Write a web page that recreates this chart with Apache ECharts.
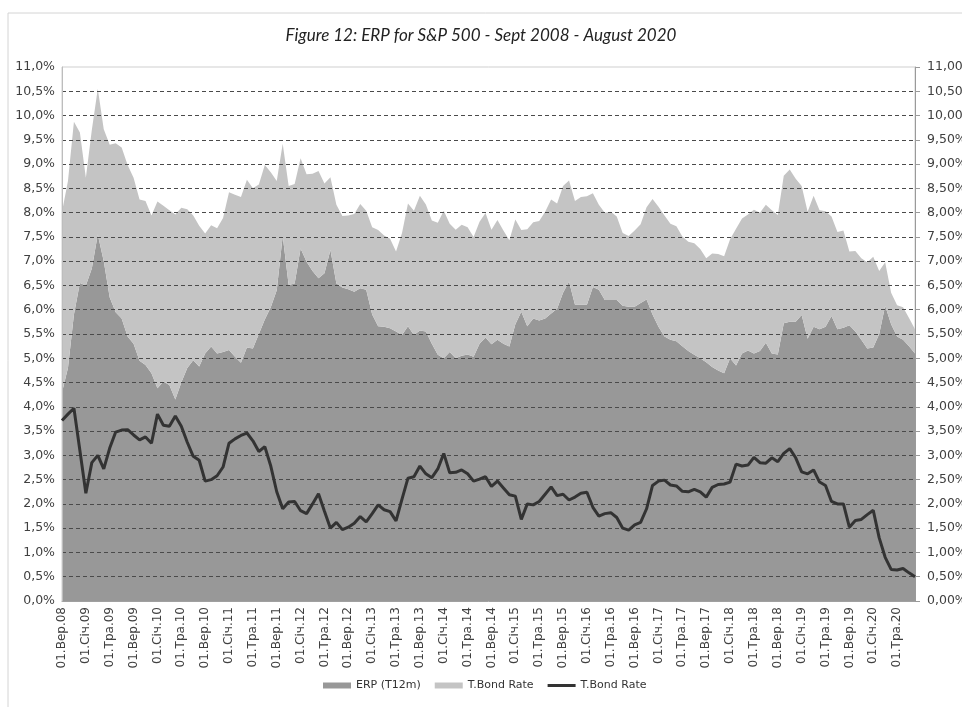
<!DOCTYPE html>
<html>
<head>
<meta charset="utf-8">
<title>ERP for S&amp;P 500</title>
<script src="https://cdn.jsdelivr.net/npm/echarts/dist/echarts.min.js"></script>
<style>
  html, body { margin: 0; padding: 0; background: #fff; }
  #chart { width: 962px; height: 707px; }
</style>
</head>
<body>
<div id="chart"></div>
<script>
  // monthly data, 01.Sep.2008 .. 01.Aug.2020 (values in %)
  const monthNames = ['Січ', 'Лют', 'Бер', 'Кві', 'Тра', 'Чер', 'Лип', 'Сер', 'Вер', 'Жов', 'Лис', 'Гру'];
  const startYear = 2008, startMonth = 8, monthCount = 144;

  const erp = [
    4.30, 4.80, 5.90, 6.55, 6.50, 6.85, 7.55, 7.00, 6.25, 5.95,
    5.82, 5.45, 5.30, 4.95, 4.86, 4.69, 4.38, 4.52, 4.45, 4.15,
    4.50, 4.80, 4.96, 4.83, 5.10, 5.24, 5.10, 5.13, 5.17, 5.03,
    4.91, 5.22, 5.20, 5.50, 5.80, 6.05, 6.40, 7.52, 6.51, 6.54,
    7.26, 6.99, 6.80, 6.65, 6.75, 7.23, 6.54, 6.46, 6.42, 6.37,
    6.44, 6.41, 5.90, 5.66, 5.65, 5.62, 5.55, 5.48, 5.66, 5.48,
    5.57, 5.55, 5.30, 5.07, 5.00, 5.13, 5.00, 5.05, 5.08, 5.03,
    5.30, 5.43, 5.29, 5.38, 5.30, 5.24, 5.70, 5.96, 5.66, 5.82,
    5.78, 5.82, 5.92, 6.02, 6.35, 6.58, 6.10, 6.10, 6.10, 6.47,
    6.41, 6.20, 6.20, 6.20, 6.08, 6.06, 6.06, 6.14, 6.21, 5.90,
    5.65, 5.45, 5.38, 5.35, 5.25, 5.15, 5.07, 5.00, 4.92, 4.82,
    4.75, 4.69, 5.00, 4.85, 5.10, 5.16, 5.10, 5.15, 5.32, 5.10,
    5.08, 5.72, 5.75, 5.75, 5.89, 5.40, 5.65, 5.60, 5.65, 5.87,
    5.60, 5.63, 5.68, 5.55, 5.38, 5.20, 5.22, 5.50, 6.08, 5.70,
    5.45, 5.38, 5.25, 5.10
  ];

  const tbond = [
    3.72, 3.85, 3.97, 3.10, 2.22, 2.85, 3.00, 2.72, 3.15, 3.48,
    3.52, 3.53, 3.42, 3.32, 3.38, 3.25, 3.85, 3.62, 3.60, 3.81,
    3.60, 3.27, 2.98, 2.90, 2.47, 2.50, 2.58, 2.76, 3.25, 3.34,
    3.41, 3.46, 3.30, 3.08, 3.18, 2.78, 2.25, 1.90, 2.04, 2.05,
    1.86, 1.80, 2.00, 2.21, 1.85, 1.50, 1.62, 1.47, 1.52, 1.60,
    1.74, 1.63, 1.80, 1.98, 1.88, 1.84, 1.65, 2.10, 2.53, 2.56,
    2.78, 2.62, 2.54, 2.72, 3.04, 2.64, 2.65, 2.70, 2.62, 2.47,
    2.51, 2.56, 2.36, 2.47, 2.33, 2.19, 2.16, 1.68, 2.00, 1.98,
    2.05, 2.20, 2.35, 2.17, 2.20, 2.08, 2.14, 2.22, 2.24, 1.93,
    1.75, 1.80, 1.82, 1.72, 1.50, 1.46, 1.57, 1.62, 1.90, 2.38,
    2.47, 2.49, 2.39, 2.37, 2.26, 2.25, 2.30, 2.25, 2.14, 2.34,
    2.40, 2.41, 2.45, 2.82, 2.78, 2.80, 2.96, 2.85, 2.84, 2.95,
    2.87, 3.04, 3.14, 2.95, 2.66, 2.62, 2.70, 2.45, 2.38, 2.05,
    2.00, 2.00, 1.52, 1.66, 1.68, 1.78, 1.87, 1.30, 0.90, 0.65,
    0.64, 0.67, 0.58, 0.50
  ];

  // tick labels like 01.Вер.08
  const dates = [];
  for (let i = 0; i < monthCount; i++) {
    const m = (startMonth + i) % 12;
    const y = startYear + Math.floor((startMonth + i) / 12);
    dates.push('01.' + monthNames[m] + '.' + String(y).slice(2));
  }

  const chart = echarts.init(document.getElementById('chart'));

  const option = {
    animation: false,
    title: {
      text: 'Figure 12: ERP for S&P 500 - Sept 2008 - August 2020',
      left: 'center',
      top: 22,
      textStyle: {
        fontFamily: 'Lato',
        fontStyle: 'italic',
        fontWeight: 'normal',
        fontSize: 17,
        color: '#222'
      }
    },
    graphic: [{
      type: 'rect',          // outer chart border
      shape: { x: 8, y: 13, width: 970, height: 710 },
      style: { fill: 'none', stroke: '#d4d4d4', lineWidth: 1 },
      silent: true
    }],
    legend: {
      bottom: 11,
      left: 318,
      itemWidth: 28,
      itemHeight: 6,
      itemGap: 14,
      textStyle: { fontFamily: 'DejaVu Sans', fontSize: 11, color: '#333' },
      data: [
        { name: 'ERP (T12m)', icon: 'rect' },
        { name: 'T.Bond Rate', icon: 'rect' },
        { name: 'T.Bond Rate ', icon: 'path://M0,0H28V3H0Z' }
      ]
    },
    grid: {
      left: 62,
      right: 47,
      top: 67,
      bottom: 106,
      containLabel: false,
      outerBoundsMode: 'none',
      show: true,
      borderColor: '#cfcfcf',
      borderWidth: 1
    },
    xAxis: {
      type: 'category',
      data: dates,
      boundaryGap: false,
      axisLine: { lineStyle: { color: '#a0a0a0' } },
      axisTick: { show: false },
      axisLabel: {
        interval: 3,
        rotate: 90,
        margin: 6,
        fontFamily: 'DejaVu Sans',
        fontSize: 12,
        color: '#404040'
      }
    },
    yAxis: [
      {
        type: 'value',
        min: 0,
        max: 11,
        interval: 0.5,
        z: 5,
        axisLine: { show: true, lineStyle: { color: '#bdbdbd' } },
        axisTick: { show: false },
        axisLabel: {
          margin: 7,
          fontFamily: 'DejaVu Sans',
          fontSize: 12.5,
          color: '#404040',
          formatter: v => v.toFixed(1).replace('.', ',') + '%'
        },
        splitLine: {
          show: true,
          showMinLine: false,
          showMaxLine: false,
          lineStyle: { color: '#4a4a4a', type: [4, 3], width: 1 }
        }
      },
      {
        type: 'value',
        position: 'right',
        min: 0,
        max: 11,
        interval: 0.5,
        axisLine: { show: true, lineStyle: { color: '#9a9a9a' } },
        axisTick: { show: true, length: 5, lineStyle: { color: '#9a9a9a' } },
        axisLabel: {
          margin: 12,
          fontFamily: 'DejaVu Sans',
          fontSize: 12.5,
          color: '#404040',
          formatter: v => v.toFixed(2).replace('.', ',') + '%'
        },
        splitLine: { show: false }
      }
    ],
    series: [
      {
        name: 'ERP (T12m)',
        type: 'line',
        stack: 'total',
        data: erp,
        symbol: 'none',
        color: '#989898',
        lineStyle: { width: 0 },
        areaStyle: { color: '#989898', opacity: 1 }
      },
      {
        name: 'T.Bond Rate',
        type: 'line',
        stack: 'total',
        data: tbond,
        symbol: 'none',
        color: '#c4c4c4',
        lineStyle: { width: 0 },
        areaStyle: { color: '#c4c4c4', opacity: 1 }
      },
      {
        name: 'T.Bond Rate ',
        type: 'line',
        data: tbond,
        symbol: 'none',
        z: 10,
        color: '#333333',
        lineStyle: { width: 3, color: '#333333' }
      }
    ]
  };

  chart.setOption(option);
</script>
</body>
</html>
